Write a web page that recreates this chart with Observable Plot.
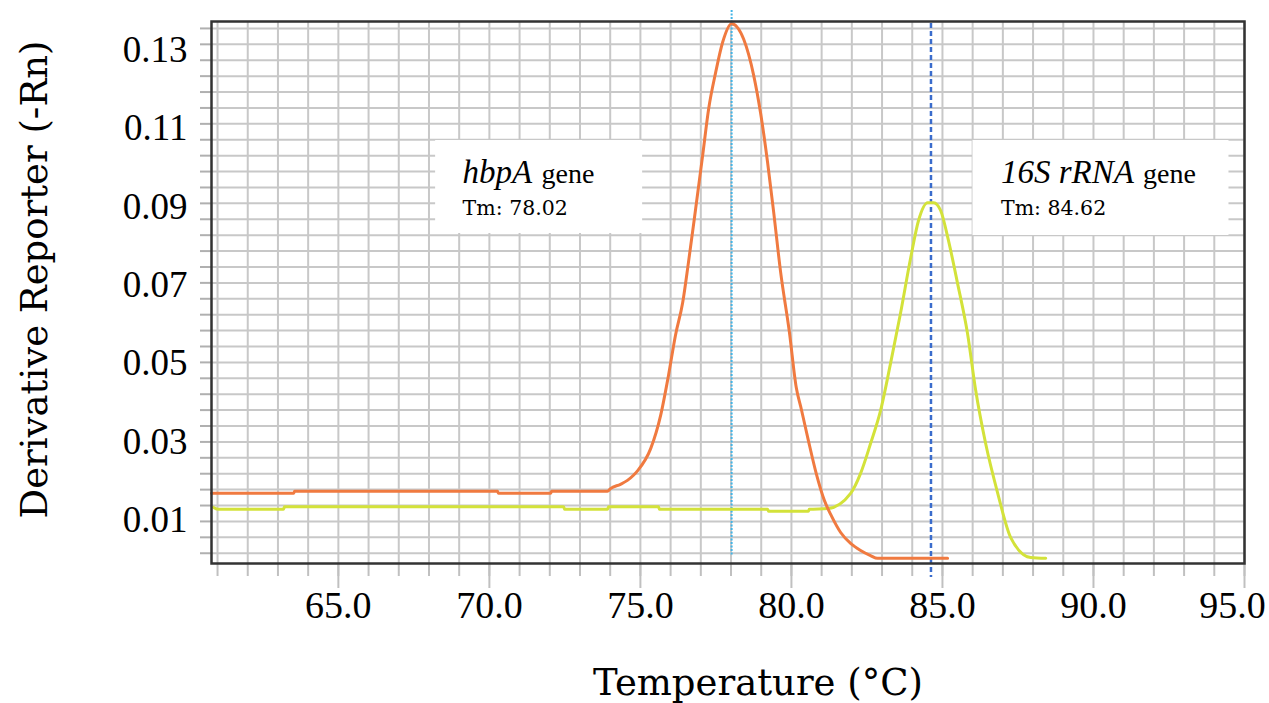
<!DOCTYPE html>
<html><head><meta charset="utf-8">
<script src="https://cdn.jsdelivr.net/npm/d3@7"></script>
<script src="https://cdn.jsdelivr.net/npm/@observablehq/plot@0.6"></script>
<style>
html,body{margin:0;padding:0;background:#fff;overflow:hidden}
</style></head><body><div id="chart"></div>
<script>
// hbpA gene melt-curve derivative
const hbpaTemp = [60.80,63.52,63.55,70.27,70.30,72.03,72.06,73.91,74.01,74.34,74.57,74.77,74.91,75.34,75.67,75.93,76.16,76.40,76.59,76.83,77.06,77.26,77.49,77.72,78.02,78.42,78.75,78.98,79.21,79.41,79.64,79.93,80.16,80.33,80.56,80.82,81.09,81.32,81.63,81.96,82.29,82.62,82.85,85.17];
const hbpaValue = [0.0169,0.0169,0.0174,0.0174,0.0169,0.0169,0.0174,0.0174,0.0181,0.0192,0.0202,0.0215,0.0227,0.0283,0.0368,0.0470,0.0572,0.0656,0.0758,0.0896,0.1031,0.1151,0.1243,0.1320,0.1368,0.1328,0.1236,0.1139,0.1014,0.0888,0.0735,0.0582,0.0439,0.0383,0.0304,0.0220,0.0151,0.0112,0.0069,0.0041,0.0023,0.0010,0.0003,0.0003];
// 16S rRNA gene melt-curve derivative
const s16Temp = [60.87,61.03,63.18,63.22,72.46,72.49,73.91,73.95,75.60,75.63,79.21,79.25,80.56,80.59,81.20,81.96,82.29,82.62,82.95,83.28,83.61,83.95,84.21,84.51,84.71,84.94,85.20,85.50,85.83,86.10,86.43,86.83,87.26,87.92,88.42];
const s16Value = [0.0133,0.0128,0.0128,0.0135,0.0135,0.0128,0.0128,0.0135,0.0135,0.0128,0.0128,0.0123,0.0123,0.0128,0.0130,0.0169,0.0220,0.0296,0.0380,0.0500,0.0628,0.0771,0.0866,0.0911,0.0911,0.0891,0.0814,0.0705,0.0577,0.0432,0.0296,0.0169,0.0056,0.0005,0.0003];

const xTicks = [65, 70, 75, 80, 85, 90, 95];
const yTicks = [0.01, 0.03, 0.05, 0.07, 0.09, 0.11, 0.13];
const genes = ["hbpA", "16S rRNA"];
const tmValues = [78.02, 84.62];
const tmLabels = ["Tm: 78.02", "Tm: 84.62"];

const hbpa = hbpaTemp.map((t, i) => ({t, v: hbpaValue[i]}));
const s16 = s16Temp.map((t, i) => ({t, v: s16Value[i]}));
const annot = genes.map((g, i) => ({gene: g, tm: tmValues[i], tmLabel: tmLabels[i]}));

const xMinor = d3.range(61, 96);
const yGrid = d3.range(0.0016, 0.1375, 0.00406);

const serif = "Liberation Serif, Times New Roman, serif";
const titleFont = "DejaVu Serif, serif";
const gridStyle = {stroke: "#c8c8c8", strokeOpacity: 1, strokeWidth: 2};

const chart = Plot.plot({
  width: 1269,
  height: 703,
  marginLeft: 211,
  marginRight: 25,
  marginTop: 21,
  marginBottom: 140,
  style: {background: "#fff", color: "#000", overflow: "visible"},
  x: {domain: [60.8, 95], label: null},
  y: {domain: [-0.00102, 0.13735], label: null},
  marks: [
    Plot.gridX(xMinor, gridStyle),
    Plot.gridY(yGrid, gridStyle),
    Plot.axisX(xMinor, {tickSize: 13, fill: "none", stroke: "#c0c0c0", strokeWidth: 2, label: null}),
    Plot.axisX(xTicks, {tickSize: 25, fill: "none", stroke: "#c0c0c0", strokeWidth: 2, label: null}),
    Plot.axisX(xTicks.slice(0, -1), {tickSize: 0, tickPadding: 28, tickFormat: d => d.toFixed(1), fontSize: 38, fontFamily: serif, label: null}),
    Plot.axisX(xTicks.slice(-1), {tickSize: 0, tickPadding: 28, dx: -12, tickFormat: d => d.toFixed(1), fontSize: 38, fontFamily: serif, label: null}),
    Plot.axisY(yGrid, {tickSize: 11, fill: "none", stroke: "#b0b0b0", strokeWidth: 2, label: null}),
    Plot.axisY(yTicks, {tickSize: 0, tickPadding: 24, tickFormat: d3.format(".2f"), fontSize: 37, fontFamily: serif, label: null}),
    // annotation boxes
    Plot.rect([annot[0]], {x1: "tm", x2: "tm", insetLeft: -296, insetRight: 89, insetTop: 119, insetBottom: 330, fill: "#fff"}),
    Plot.rect([annot[1]], {x1: "tm", x2: "tm", insetLeft: 42, insetRight: -298, insetTop: 119, insetBottom: 328, fill: "#fff"}),
    // Tm lines
    Plot.ruleX([annot[0]], {x: "tm", stroke: "#42b4e6", strokeWidth: 2, strokeDasharray: "2,1.5", insetTop: -11, insetBottom: 8}),
    Plot.ruleX([annot[1]], {x: "tm", stroke: "#3a6ccc", strokeWidth: 2.5, strokeDasharray: "5,3", insetTop: 2, insetBottom: -14}),
    // curves
    Plot.line(s16, {x: "t", y: "v", stroke: "#d3e23a", strokeWidth: 3, curve: "monotone-x"}),
    Plot.line(hbpa, {x: "t", y: "v", stroke: "#f07a40", strokeWidth: 3, curve: "monotone-x"}),
    // annotation texts
    Plot.text([annot[0]], {x: "tm", text: "gene", frameAnchor: "top", lineAnchor: "bottom", textAnchor: "start", dx: -269, dy: 161, fontSize: 33, fontStyle: "italic", fontFamily: serif, fill: "#000"}),
    Plot.text([annot[0]], {x: "tm", text: () => "gene", frameAnchor: "top", lineAnchor: "bottom", textAnchor: "start", dx: -190, dy: 161, fontSize: 28, fontFamily: serif, fill: "#000"}),
    Plot.text([annot[0]], {x: "tm", text: "tmLabel", frameAnchor: "top", lineAnchor: "bottom", textAnchor: "start", dx: -269, dy: 193, fontSize: 20.5, fontFamily: titleFont, fill: "#000"}),
    Plot.text([annot[1]], {x: "tm", text: "gene", frameAnchor: "top", lineAnchor: "bottom", textAnchor: "start", dx: 70, dy: 161, fontSize: 33, fontStyle: "italic", fontFamily: serif, fill: "#000"}),
    Plot.text([annot[1]], {x: "tm", text: () => "gene", frameAnchor: "top", lineAnchor: "bottom", textAnchor: "start", dx: 212, dy: 161, fontSize: 28, fontFamily: serif, fill: "#000"}),
    Plot.text([annot[1]], {x: "tm", text: "tmLabel", frameAnchor: "top", lineAnchor: "bottom", textAnchor: "start", dx: 70, dy: 193, fontSize: 20.5, fontFamily: titleFont, fill: "#000"}),
    // axis titles
    Plot.text(["Derivative Reporter (-Rn)"], {text: d => d, frameAnchor: "left", dx: -176, dy: -13, rotate: -90, textAnchor: "middle", lineAnchor: "middle", fontSize: 37, fontFamily: titleFont, fill: "#000"}),
    Plot.text(["Temperature (\u00B0C)"], {text: d => d, frameAnchor: "bottom", dx: 30, dy: 131, textAnchor: "middle", lineAnchor: "bottom", fontSize: 37, fontFamily: titleFont, fill: "#000"}),
    Plot.frame({stroke: "#333", strokeWidth: 2.5})
  ]
});
document.getElementById("chart").appendChild(chart);
</script>
</body></html>
